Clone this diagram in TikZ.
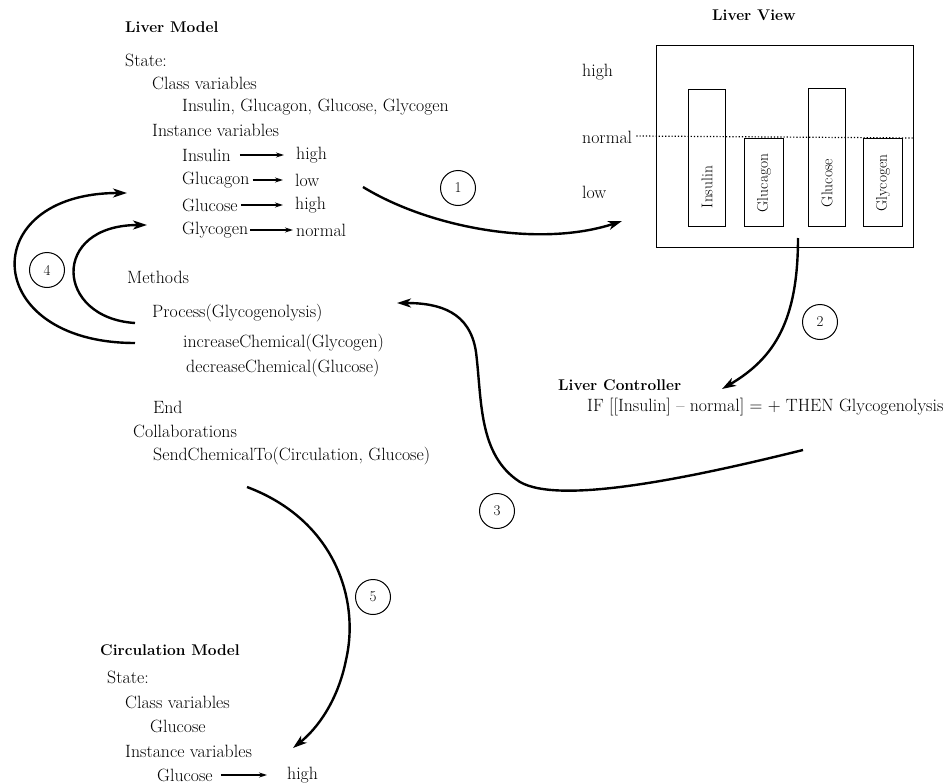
\documentclass[tikz,border=0pt]{standalone}
\usepackage{fontspec}
\usetikzlibrary{arrows.meta}
\begin{document}
\begin{tikzpicture}[x=1pt,y=-1pt,
  txt/.style={anchor=west,inner sep=0pt,font=\fontsize{17.8}{19}\selectfont},
  ttl/.style={anchor=west,inner sep=0pt,font=\fontsize{15.5}{18}\selectfont\bfseries},
  num/.style={circle,draw,line width=1pt,minimum size=35pt,inner sep=0pt,font=\fontsize{15}{16}\selectfont},
  flow/.style={line width=2.4pt,-{Stealth[length=14pt,width=9pt,inset=4pt]}},
  small/.style={line width=1.1pt,-{Stealth[length=8pt,width=5pt]}},
  bar/.style={draw,line width=0.9pt},
  vlab/.style={rotate=90,inner sep=0pt,font=\fontsize{15.5}{16}\selectfont}]
\useasboundingbox (0,0) rectangle (951,784);

% ---------------- Liver Model ----------------
\node[ttl] (lm) at (125,27) {Liver Model};
\node[txt] (lmstate) at (125,60) {State:};
\node[txt] (lmcv) at (152,83) {Class variables};
\node[txt] (lmcvl) at (182,107) {Insulin, Glucagon, Glucose, Glycogen};
\node[txt] (lmiv) at (152,130) {Instance variables};
\node[txt] (iv1) at (182,155) {Insulin};
\node[txt] (iv1v) at (296,155) {high};
\node[txt] (iv2) at (182,180) {Glucagon};
\node[txt] (iv2v) at (295,180) {low};
\node[txt] (iv3) at (182,205) {Glucose};
\node[txt] (iv3v) at (295,205) {high};
\node[txt] (iv4) at (182,230) {Glycogen};
\node[txt] (iv4v) at (296,230) {normal};
\draw[small] ([xshift=9pt]iv1.east) -- ([xshift=-12pt]iv1v.west);
\draw[small] ([xshift=3pt]iv2.east) -- ([xshift=-12pt]iv2v.west);
\draw[small] ([xshift=3pt]iv3.east) -- ([xshift=-12pt]iv3v.west);
\draw[small] ([xshift=2pt]iv4.east) -- ([xshift=-3pt]iv4v.west);

\node[txt] (meth) at (127,277) {Methods};
\node[txt] (proc) at (152,313) {Process(Glycogenolysis)};
\node[txt] (inc) at (183,343) {increaseChemical(Glycogen)};
\node[txt] (dec) at (186,368) {decreaseChemical(Glucose)};
\node[txt] (end) at (153,407) {End};
\node[txt] (coll) at (133,431) {Collaborations};
\node[txt] (send) at (153,456) {SendChemicalTo(Circulation, Glucose)};

% ---------------- Liver View ----------------
\node[ttl] (lv) at (712,15) {Liver View};
\node[txt] (vhigh) at (582,72) {high};
\node[txt] (vnorm) at (582,137) {normal};
\node[txt] (vlow) at (582,192) {low};
\node[draw,line width=0.9pt,anchor=north west,minimum width=257pt,minimum height=202pt,inner sep=0pt] (view) at (656,45) {};
\draw[line width=1.2pt,dotted] ([xshift=4pt,yshift=1pt]vnorm.east) -- (view.east |- 0,138);
\draw[bar] (688,89) rectangle (725,226);
\draw[bar] (744,138) rectangle (783,226);
\draw[bar] (808,88) rectangle (845,226);
\draw[bar] (863,138) rectangle (902,226);
\node[vlab] (bins) at (707,187) {Insulin};
\node[vlab] (bglu) at (764,183) {Glucagon};
\node[vlab] (bgls) at (827,183) {Glucose};
\node[vlab] (bgly) at (883,183) {Glycogen};

% ---------------- Liver Controller ----------------
\node[ttl] (lc) at (558,385) {Liver Controller};
\node[txt] (rule) at (587,407) {IF [[Insulin] -- normal] = + THEN Glycogenolysis};

% ---------------- Circulation Model ----------------
\node[ttl] (cm) at (100,650) {Circulation Model};
\node[txt] (cmstate) at (107,677) {State:};
\node[txt] (cmcv) at (125,702) {Class variables};
\node[txt] (cmcvl) at (150,726) {Glucose};
\node[txt] (cmiv) at (125,751) {Instance variables};
\node[txt] (cmg) at (157,775) {Glucose};
\node[txt] (cmgv) at (287,775) {high};
\draw[small] ([xshift=8pt]cmg.east) -- ([xshift=-20pt]cmgv.west);

% ---------------- numbered circles ----------------
\node[num] (n1) at (458,188) {1};
\node[num] (n2) at (820,322) {2};
\node[num] (n3) at (497,511) {3};
\node[num] (n4) at (47,270) {4};
\node[num] (n5) at (373,597) {5};

% ---------------- connectors ----------------
\coordinate (a1s) at (363,187);
\coordinate (a1e) at (622,221);
\draw[flow] (a1s) .. controls (430,228) and (540,248) .. (a1e);

\coordinate (a2s) at (798,238);
\coordinate (a2e) at (722,389);
\draw[flow] (a2s) .. controls (798,320) and (775,358) .. (a2e);

\coordinate (a3s) at (803,450);
\coordinate (a3e) at (397,303);
\draw[flow] (a3s) .. controls (690,478) and (560,505) .. (520,482)
  .. controls (478,455) and (482,400) .. (476,352)
  .. controls (470,312) and (440,303) .. (a3e);

\coordinate (a4os) at (135,343);
\coordinate (a4oe) at (127,193);
\draw[flow] (a4os) .. controls (-20,343) and (-25,193) .. (a4oe);
\coordinate (a4is) at (135,323);
\coordinate (a4ie) at (147,225);
\draw[flow] (a4is) .. controls (55,318) and (50,225) .. (a4ie);

\coordinate (a5s) at (247,487);
\coordinate (a5e) at (293,748);
\draw[flow] (a5s) .. controls (335,520) and (360,600) .. (346,660)
  .. controls (338,700) and (318,728) .. (a5e);
\end{tikzpicture}
\end{document}
